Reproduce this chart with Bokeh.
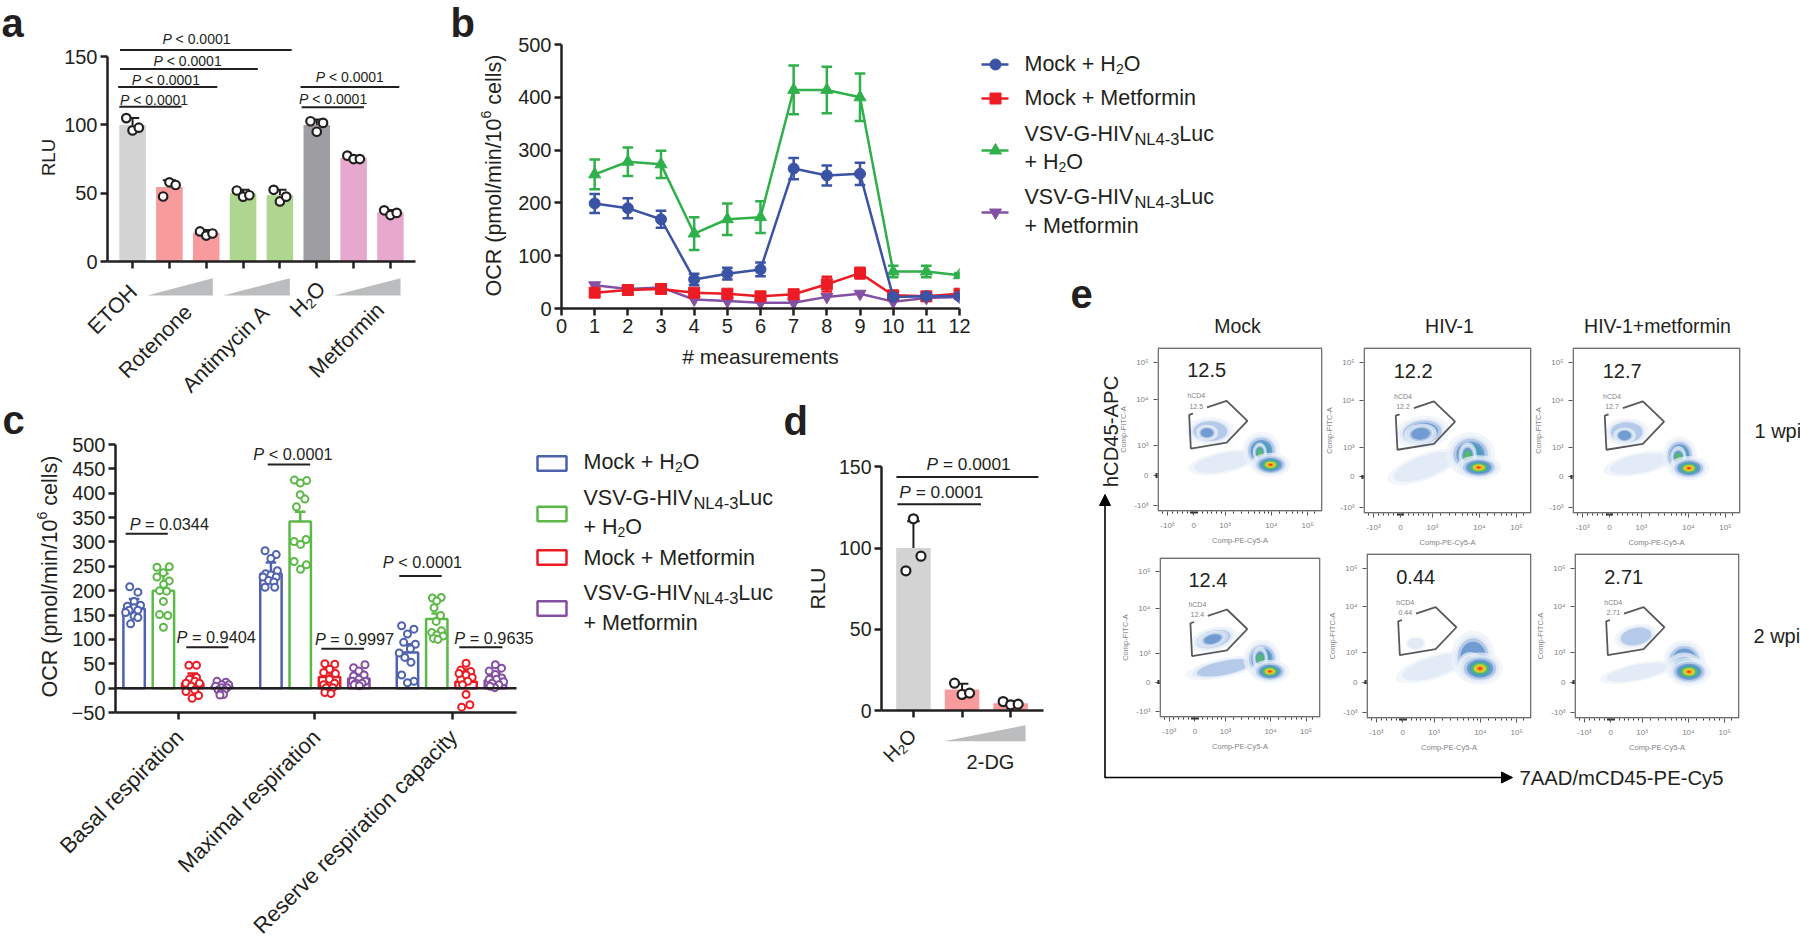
import math
from bokeh.plotting import figure
from bokeh.models import GridBox, FixedTicker, Range1d, Arrow, NormalHead
from bokeh.core.properties import value
from bokeh.embed import file_html
from bokeh.resources import INLINE

FONT = "Liberation Sans"
INK = "#231f20"

# ---------- panel a ----------
a_bars = [100, 54.5, 21, 50, 48.5, 100, 76, 36]
a_err = [5, 5, 2, 2.5, 4, 4, 1.5, 1.8]
a_colors = ["#d3d3d3", "#f89b9d", "#f89b9d", "#aed68f", "#aed68f", "#9e9ea2", "#e6a9cd", "#e6a9cd"]
a_pts = [[105, 96, 98], [47.6, 58, 56], [22, 19, 20.5], [52, 47.5, 48.5],
         [52.5, 44, 47.5], [102.7, 95, 101.5], [77.5, 75, 75], [37.5, 34, 35.6]]
a_jitter = [-0.17, 0, 0.17]
a_brackets = [(-0.34, 4.32, 154.9), (-0.34, 3.40, 141), (-0.39, 2.30, 127.8), (-0.36, 1.33, 113.4),
              (4.56, 7.24, 127.8), (4.59, 6.28, 113)]
a_ptext = [(0.81, 163, "< 0.0001"), (0.57, 147, "< 0.0001"), (-0.02, 133, "< 0.0001"),
           (-0.34, 118, "< 0.0001"), (4.97, 135, "< 0.0001"), (4.52, 119, "< 0.0001")]

# ---------- panel b ----------
b_x = list(range(1, 13))
b_blue = [199, 190, 169, 55, 66, 74, 265, 252, 255, 22, 23, 23]
b_blue_e = [18, 19, 16, 11, 11, 13, 20, 19, 21, 4, 4, 4]
b_green = [254, 278, 273, 142, 169, 173, 414, 414, 400, 70, 70, 63]
b_green_e = [28, 27, 26, 31, 30, 30, 46, 44, 45, 11, 11, 4]
b_red = [30, 35, 37, 30, 28, 23, 27, 46, 67, 25, 23, 28]
b_red_e = [6, 6, 6, 5, 5, 5, 6, 14, 10, 6, 8, 8]
b_purple = [44, 37, 40, 17, 14, 11, 11, 22, 28, 13, 20, 22]
BLUE, RED, GREEN, PURPLE = "#3a53a4", "#ed1c24", "#2fb04a", "#8450a3"

# ---------- panel c ----------
c_groups = ["Basal respiration", "Maximal respiration", "Reserve respiration capacity"]
c_bars = [163, 200, 10, 3, 235, 342, 23, 20, 73, 142, 13, 16]
c_err = [20, 35, 20, 9, 23, 20, 22, 15, 17, 11, 25, 15]
c_colors = ["#4f62ae", "#5cb947", RED, PURPLE] * 3
c_vals = [
    [208, 197, 178, 168, 170, 165, 160, 160, 155, 148, 145, 132],
    [248, 249, 237, 228, 220, 213, 200, 199, 178, 151, 149, 125],
    [47, 47, 22, 18, 14, 10, 10, 4, -7, -4, -15, -21],
    [14, 12, 7, 7, 4, 1, 1, -4, -4, -10, -13, -14],
    [282, 274, 266, 241, 235, 232, 228, 228, 221, 218, 207, 207],
    [427, 426, 421, 397, 388, 372, 305, 301, 295, 260, 253, 244],
    [50, 49, 39, 32, 30, 18, 7, 10, 1, 1, -9, -11],
    [48, 42, 35, 27, 25, 18, 14, 14, 10, 10, 7, 5],
    [128, 121, 111, 94, 90, 81, 72, 63, 53, 27, 14, 11],
    [185, 186, 179, 165, 149, 137, 118, 114, 109, 107, 102, 100],
    [51, 37, 34, 27, 22, 18, 14, 7, -13, -34, -39, 30],
    [48, 41, 35, 28, 21, 18, 18, 13, 10, 7, 1, 4],
]
c_jit = [
    [-.15, .13, 0, -.23, .22, 0, -.17, .13, -.29, 0, .13, -.12],
    [-.22, .2, 0, -.22, .2, .01, -.13, .11, 0, -.13, .15, 0],
    [-.13, .13, .13, -.11, .07, -.23, .23, -.05, -.23, .07, .2, -.02],
    [-.17, .13, -.01, .23, -.22, -.01, .17, -.13, .09, -.04, .05, -.07],
    [-.2, .18, 0, .22, -.18, 0, -.27, .18, -.08, .1, -.2, .13],
    [-.2, .22, 0, 0, .16, -.13, .2, -.21, .01, -.21, .21, .01],
    [-.16, .18, 0, -.2, .2, 0, -.2, .17, -.11, .11, -.16, .05],
    [.21, -.18, 0, .18, -.18, 0, .23, -.22, -.1, .11, -.16, .02],
    [-.2, .22, 0, -.13, .27, .1, -.28, -.09, .12, -.2, .22, 0],
    [-.15, .15, 0, -.09, .13, -.02, .16, -.17, 0, .22, -.11, .04],
    [0, -.18, .16, 0, .21, -.18, .06, -.12, 0, .13, -.15, -.24],
    [0, .21, -.21, 0, .22, -.21, .04, .28, -.11, .12, -.02, -.18],
]
c_group_x = [1.5, 6.17, 10.85]
c_brackets = [(-0.29, 1.15, 317), (1.78, 3.22, 84), (4.56, 6.01, 459), (6.39, 7.85, 81), (9.05, 10.5, 230), (11.1, 12.57, 84)]
c_ptext = [(-0.15, 337, "= 0.0344"), (1.45, 105, "= 0.9404"), (4.07, 480, "< 0.0001"),
           (6.17, 100, "= 0.9997"), (8.49, 258, "< 0.0001"), (10.93, 103, "= 0.9635")]

# ---------- panel d ----------
d_bars = [100, 13, 4.5]
d_err = [16.5, 3.5, 1]
d_colors = ["#d3d3d3", "#f89b9d", "#f89b9d"]
d_pts = [[86, 118, 95], [16.8, 9.9, 10.7], [5.5, 3.5, 3.9]]
d_jitter = [-0.155, 0, 0.155]
d_brackets = [(-0.33, 1.39, 127), (-0.35, 2.57, 143.8)]
d_ptext = [(-0.29, 134.6, "= 0.0001"), (0.27, 152, "= 0.0001")]

# ---------- panel e ----------
e_cols = ["Mock", "HIV-1", "HIV-1+metformin"]
e_rows = ["1 wpi", "2 wpi"]
e_pct = ["12.5", "12.2", "12.7", "12.4", "0.44", "2.71"]
e_gate_x = [.30, .419, .545, .419, .202, .192, .215]
e_gate_y = [.635, .675, .553, .42, .384, .589, .597]
e_xticks = [.06, .22, .41, .69, .91]
e_yticks = [.035, .22, .40, .68, .91]
e_xlabels = ["-10\u00b3", "0", "10\u00b3", "10\u2074", "10\u2075"]
e_ylabels = ["-10\u00b3", "0", "10\u00b3", "10\u2074", "10\u2075"]
e_xminor = [.03, .09, .12, .15, .18, .2, .205, .21, .215, .225, .23, .235, .24, .27, .3, .33, .36, .385,
            .46, .51, .55, .59, .62, .65, .67, .74, .78, .82, .85, .88, .95]
# clusters: x, y, width, height, tilt, number of density levels
e_clusters = [
    [(.40, .30, .36, .11, .2, 1), (.32, .49, .24, .14, 0, 2), (.30, .48, .11, .08, 0, 3), (.63, .37, .19, .19, 0, 4), (.62, .36, .07, .10, 0, 5), (.685, .285, .20, .12, 0, 8)],
    [(.36, .28, .38, .13, .35, 1), (.35, .49, .27, .16, .1, 3), (.34, .48, .16, .10, .1, 3), (.637, .357, .24, .22, 0, 4), (.62, .35, .09, .13, 0, 5), (.686, .277, .22, .12, 0, 8)],
    [(.40, .30, .36, .11, .2, 1), (.323, .49, .22, .14, 0, 2), (.31, .47, .11, .08, 0, 3), (.638, .35, .17, .19, 0, 4), (.63, .34, .08, .11, 0, 5), (.693, .273, .20, .12, 0, 8)],
    [(.40, .31, .40, .10, .2, 2), (.337, .49, .25, .12, .25, 3), (.33, .49, .16, .08, .25, 3), (.637, .365, .19, .20, 0, 4), (.625, .37, .08, .12, 0, 5), (.686, .288, .20, .12, 0, 8)],
    [(.40, .31, .38, .12, .3, 1), (.298, .455, .10, .07, 0, 1), (.646, .374, .22, .26, 0, 3), (.63, .33, .12, .12, .6, 4), (.688, .303, .23, .16, 0, 8)],
    [(.38, .28, .38, .09, .2, 1), (.373, .497, .22, .12, .2, 2), (.666, .354, .21, .20, 0, 3), (.665, .32, .17, .13, 0, 4), (.694, .283, .22, .14, 0, 8)],
]
e_halo = ("#edf2fa", .7, 1.22)
e_ramp = [("#dfe8f6", .8), ("#a9c2e4", .8), ("#4f82c4", .65), ("#3b9fb5", .7), ("#57bb63", .85), ("#d8d92d", .95), ("#f5a11e", 1), ("#e9381a", 1)]
e_scale = [1, .86, .7, .58, .46, .33, .21, .1]
e_boxes = [(1157, 1322, 346.7, 510.7), (1363, 1531, 346.7, 512.7), (1572, 1740, 347, 513),
           (1159, 1320, 556.7, 716.7), (1366, 1531, 553, 718), (1574, 1739, 553, 718)]

# ---------- legends ----------
MOCK_H2O = [("Mock + H", 0), ("2", 1), ("O", 0)]
VSV = [("VSV-G-HIV", 0), ("NL4-3", 1), ("Luc", 0)]
PLUS_H2O = [("+ H", 0), ("2", 1), ("O", 0)]
MOCK_MET = [("Mock + Metformin", 0)]
PLUS_MET = [("+ Metformin", 0)]

# ---------- text helpers ----------
_w = {}
for chars, w in [(" ./", .278), ("tfI", .278), ("ilj", .222), ("-r()", .333), ("cksvxyz", .5), ("mM", .833),
                 ("wCDHNRU", .722), ("AEBKPSVXY", .667), ("GOQ", .778), ("FTZ", .611), ("+=<>", .584)]:
    for ch in chars:
        _w[ch] = w
def text_w(s, size):
    return sum(_w.get(c, .556) for c in s) * size

# every figure shares these borders, as a grid box aligns the frames of its children
PL, PR, PT, PB = 70, 30, 10, 90


def panel(L, R, T, B, xr, yr):
    p = figure(frame_width=int(round(R - L)), frame_height=int(round(B - T)),
               min_border_left=PL, min_border_right=PR, min_border_top=PT, min_border_bottom=PB,
               x_range=Range1d(*xr), y_range=Range1d(*yr), output_backend="svg", toolbar_location=None,
               background_fill_color=None, border_fill_color=None, outline_line_color=None,
               margin=(int(round(T - PT)), 0, 0, int(round(L - PL))))
    p.grid.visible = False
    return p


def style_axis(ax, size="20px", lw=2.5):
    ax.axis_line_width = lw
    ax.axis_line_color = INK
    ax.major_tick_line_width = lw
    ax.major_tick_line_color = INK
    ax.major_tick_in = 0
    ax.major_tick_out = 7
    ax.minor_tick_line_color = None
    ax.major_label_text_font = FONT
    ax.major_label_text_font_size = size
    ax.major_label_text_color = INK
    ax.major_label_standoff = 3


def p_text(p, x, y, rest, size):
    kw = dict(text_font=value(FONT), text_font_size=f"{size}px", text_color=INK, text_baseline="middle", text_align="left")
    p.text(x=[x], y=[y], text=["P"], text_font_style="italic", **kw)
    p.text(x=[x], y=[y], text=[rest], x_offset=text_w("P ", size), **kw)


def brackets(p, rows, lw=2):
    p.segment(x0=[r[0] for r in rows], x1=[r[1] for r in rows], y0=[r[2] for r in rows], y1=[r[2] for r in rows],
              line_color=INK, line_width=lw)


def bars_with_points(p, xs, bars, errs, colors, pts, jit, width, cap, psize, plw):
    p.vbar(x=xs, top=bars, width=width, bottom=0, fill_color=colors, line_color=None)
    p.segment(x0=xs, x1=xs, y0=bars, y1=[b + e for b, e in zip(bars, errs)], line_color=INK, line_width=2)
    p.segment(x0=[x - cap for x in xs], x1=[x + cap for x in xs],
              y0=[b + e for b, e in zip(bars, errs)], y1=[b + e for b, e in zip(bars, errs)], line_color=INK, line_width=2)
    for x, vals in zip(xs, pts):
        p.scatter(x=[x + j for j in jit], y=vals, size=psize, fill_color="white", line_color=INK, line_width=plw)


# ---------- overlay ----------
# the negative margin takes PL and PT off the drawn frame, so they are added back to keep it at 1800 x 936
ov = figure(frame_width=1800 + PL, frame_height=936 + PT, x_range=Range1d(0, 1800), y_range=Range1d(936, 0), output_backend="svg",
            toolbar_location=None, background_fill_color=None, border_fill_color=None, outline_line_color=None,
            min_border_left=PL, min_border_right=PR, min_border_top=PT, min_border_bottom=PB,
            margin=(-PT, 0, 0, -PL), x_axis_type=None, y_axis_type=None)
ov.grid.visible = False


def label(x, y, s, size=20, align="left", base="middle", angle=0, style="normal", color=INK):
    ov.text(x=[x], y=[y], text=[s], text_font=value(FONT), text_font_size=f"{size}px", text_align=align,
            text_baseline=base, angle=angle, text_font_style=style, text_color=color)


def rich(x, y, pieces, size=21.5, sub=14, angle=0, drop=5):
    ca, sa = math.cos(angle), math.sin(angle)
    pos = 0
    for s, is_sub in pieces:
        sz = sub if is_sub else size
        d = drop if is_sub else 0
        stripped = s.lstrip(" ")
        pos += text_w(s[:len(s) - len(stripped)], sz)
        ov.text(x=[x + pos * ca + d * sa], y=[y - pos * sa + d * ca], text=[stripped], text_font=value(FONT),
                text_font_size=f"{sz}px", text_align="left", text_baseline="alphabetic", angle=angle, text_color=INK)
        pos += text_w(stripped, sz)


for s, x, y in [("a", 1, 22), ("b", 450, 22), ("c", 2, 419), ("d", 783, 420), ("e", 1070, 293)]:
    label(x, y, s, size=40, base="alphabetic", style="bold")

# wedges
for xa, xb, ya, yb in [(146.7, 212.3, 295, 277.7), (222.7, 289.3, 295, 277.7), (333.3, 400, 295, 277.7), (943.3, 1025, 740.7, 724.7)]:
    ov.patch(x=[xa, xb, xb], y=[ya, ya, yb], fill_color="#bbbcbe", line_color=None)

# rotated tick labels
R45 = math.pi / 4
label(133, 288, "ETOH", 21.5, "right", "alphabetic", R45)
label(188, 308, "Rotenone", 21.5, "right", "alphabetic", R45)
label(265.7, 308, "Antimycin A", 21.5, "right", "alphabetic", R45)
label(380, 306, "Metformin", 21.5, "right", "alphabetic", R45)
rich(293, 313, [("H", 0), ("2", 1), ("O", 0)], 21.5, 14, R45)
rich(886, 758, [("H", 0), ("2", 1), ("O", 0)], 20, 13, R45)
label(990, 761, "2-DG", 20, "center")
for x, s in zip([179, 316, 453], c_groups):
    label(x, 733, s, 22, "right", "alphabetic", R45)

# axis titles
label(48, 157, "RLU", 18.5, "center", "alphabetic", math.pi / 2)
label(817, 588, "RLU", 21, "center", "alphabetic", math.pi / 2)
Y_TITLE = [("OCR (pmol/min/10", 0), ("6", 1), (" cells)", 0)]
rich(493, 296, Y_TITLE, 21.5, 14, math.pi / 2, -8)
rich(49, 697, Y_TITLE, 21.5, 14, math.pi / 2, -8)

# legend b
for y, c, m, sz in [(64, BLUE, "circle", 11), (98, RED, "square", 11), (150, GREEN, "triangle", 12), (212, PURPLE, "inverted_triangle", 12)]:
    ov.segment(x0=[981], x1=[1008], y0=[y], y1=[y], line_color=c, line_width=2.5)
    ov.scatter(x=[995], y=[y], marker=m, size=sz, fill_color=c, line_color=c)
for y, pcs in [(63, MOCK_H2O), (97, MOCK_MET), (133, VSV), (161, PLUS_H2O), (196, VSV), (225, PLUS_MET)]:
    rich(1024, y, pcs, sub=16.5 if pcs is VSV else 14)

# legend c
for y, c in [(463, c_colors[0]), (513.5, c_colors[1]), (557, c_colors[2]), (608, c_colors[3])]:
    ov.rect(x=[551.5], y=[y], width=[29], height=[14.5], fill_color=None, line_color=c, line_width=2.5)
for y, pcs in [(461, MOCK_H2O), (497, VSV), (526, PLUS_H2O), (557, MOCK_MET), (592, VSV), (622, PLUS_MET)]:
    rich(583, y, pcs, sub=16.5 if pcs is VSV else 14)

# panel e text and arrows
for x, s in zip([1237, 1449, 1657], e_cols):
    label(x, 325, s, 19.5, "center")
label(1754, 430, e_rows[0], 20)
label(1753, 635, e_rows[1], 20)
label(1110, 431, "hCD45-APC", 20.3, "center", "alphabetic", math.pi / 2)
label(1519, 777, "7AAD/mCD45-PE-Cy5", 20.3)
ov.add_layout(Arrow(end=NormalHead(size=11, fill_color="black", line_color="black"), x_start=1104.5, y_start=777,
                    x_end=1104.5, y_end=494, line_color="black", line_width=1.6))
ov.add_layout(Arrow(end=NormalHead(size=11, fill_color="black", line_color="black"), x_start=1104, y_start=777,
                    x_end=1512, y_end=777, line_color="black", line_width=1.6))

# ---------- build panel a ----------
pa = panel(106.7, 415, 22.5, 261.7, (-0.68, 7.68), (0, 175))
a_x = list(range(8))
bars_with_points(pa, a_x, a_bars, a_err, a_colors, a_pts, a_jitter, 0.72, 0.18, 8.5, 2.2)
brackets(pa, a_brackets)
for x, y, t in a_ptext:
    p_text(pa, x, y, t, 14)
for ax in pa.yaxis + pa.xaxis:
    style_axis(ax)
pa.yaxis.bounds = (0, 150)
pa.yaxis.ticker = FixedTicker(ticks=[0, 50, 100, 150])
pa.xaxis.ticker = FixedTicker(ticks=a_x)
pa.xaxis.major_label_text_color = None

# ---------- build panel b ----------
pb = panel(561.4, 959.7, 43.6, 307.7, (0, 12), (0, 500))
for ys, es, c, m, sz in [(b_purple, None, PURPLE, "inverted_triangle", 12), (b_green, b_green_e, GREEN, "triangle", 12),
                         (b_red, b_red_e, RED, "square", 11), (b_blue, b_blue_e, BLUE, "circle", 11)]:
    pb.line(b_x, ys, line_color=c, line_width=2.5)
    if es:
        lo = [y - e for y, e in zip(ys, es)]
        hi = [y + e for y, e in zip(ys, es)]
        pb.segment(x0=b_x, x1=b_x, y0=lo, y1=hi, line_color=c, line_width=2.5)
        for v in (lo, hi):
            pb.segment(x0=[x - .16 for x in b_x], x1=[x + .16 for x in b_x], y0=v, y1=v, line_color=c, line_width=2.5)
    pb.scatter(b_x, ys, marker=m, size=sz, fill_color=c, line_color=c)
for ax in pb.yaxis + pb.xaxis:
    style_axis(ax)
pb.yaxis.ticker = FixedTicker(ticks=[0, 100, 200, 300, 400, 500])
pb.xaxis.ticker = FixedTicker(ticks=list(range(13)))
pb.xaxis.axis_label = "# measurements"
pb.xaxis.axis_label_text_font = FONT
pb.xaxis.axis_label_text_font_size = "21px"
pb.xaxis.axis_label_text_font_style = "normal"
pb.xaxis.axis_label_text_color = INK
pb.xaxis.axis_label_standoff = 9

# ---------- build panel c ----------
px_per = 29.3
c_left = -(133.6 - 115) / px_per
c_right = (516 - 133.6) / px_per
pc = panel(115, 556, 444, 711.8, (c_left, (556 - 133.6) / px_per), (-50, 500))
c_x = list(range(4)) + [v + 4.67 for v in range(4)] + [v + 9.33 for v in range(4)]
pc.vbar(x=c_x, top=c_bars, width=0.73, bottom=0, fill_color=None, line_color=c_colors, line_width=2.5)
c_top = [b + e for b, e in zip(c_bars, c_err)]
pc.segment(x0=c_x, x1=c_x, y0=c_bars, y1=c_top, line_color=c_colors, line_width=2.5)
pc.segment(x0=[x - .18 for x in c_x], x1=[x + .18 for x in c_x], y0=c_top, y1=c_top, line_color=c_colors, line_width=2.5)
for x, col, vals, jit in zip(c_x, c_colors, c_vals, c_jit):
    pc.scatter(x=[x + j for j in jit], y=vals, size=7, fill_color="white", line_color=col, line_width=2)
pc.segment(x0=[c_left], x1=[c_right], y0=[0], y1=[0], line_color=INK, line_width=2.5)
brackets(pc, c_brackets)
for x, y, t in c_ptext:
    p_text(pc, x, y, t, 16.3)
for ax in pc.yaxis + pc.xaxis:
    style_axis(ax)
pc.yaxis.ticker = FixedTicker(ticks=list(range(-50, 501, 50)))
pc.xaxis.bounds = (c_left, c_right)
pc.xaxis.ticker = FixedTicker(ticks=c_group_x)
pc.xaxis.major_label_text_color = None

# ---------- build panel d ----------
pd_ = panel(880.7, 1043, 440, 710, (-(912.7 - 880.7) / 48.7, (1043 - 912.7) / 48.7), (0, 166.2))
d_x = [0, 1, 2]
bars_with_points(pd_, d_x, d_bars, d_err, d_colors, d_pts, d_jitter, 0.71, 0.13, 9, 2.2)
brackets(pd_, d_brackets)
for x, y, t in d_ptext:
    p_text(pd_, x, y, t, 17.3)
for ax in pd_.yaxis + pd_.xaxis:
    style_axis(ax, "19.5px")
pd_.yaxis.bounds = (0, 150)
pd_.yaxis.ticker = FixedTicker(ticks=[0, 50, 100, 150])
pd_.xaxis.ticker = FixedTicker(ticks=d_x)
pd_.xaxis.major_label_text_color = None

# ---------- build panel e ----------
flow = []
for box, clusters, pct in zip(e_boxes, e_clusters, e_pct):
    L, R, T, B = box
    pf = panel(L, R, T, B, (0, 1), (0, 1))
    pf.quad(left=[.004], right=[.996], bottom=[.004], top=[.996], fill_color=None, line_color="#6d6e70", line_width=1.6)
    for cx, cy, w, h, tilt, n in clusters:
        pf.ellipse(x=[cx], y=[cy], width=[w * e_halo[2]], height=[h * e_halo[2]], angle=[tilt], fill_color=e_halo[0],
                   fill_alpha=e_halo[1], line_color=None)
        for (col, alpha), s in list(zip(e_ramp, e_scale))[:n]:
            pf.ellipse(x=[cx], y=[cy], width=[w * s], height=[h * s], angle=[tilt], fill_color=col,
                       fill_alpha=alpha, line_color=None)
    pf.line(e_gate_x, e_gate_y, line_color="#58595b", line_width=1.8)
    gray = "#808285"
    for y, s in [(.705, "hCD4"), (.642, pct)]:
        pf.text(x=[.235], y=[y], text=[s], text_font=value(FONT), text_font_size="7px", text_align="center",
                text_baseline="middle", text_color=gray)
    pf.text(x=[.18], y=[.86], text=[pct], text_font=value(FONT), text_font_size="20px", text_baseline="middle", text_color=INK)
    for ax, ticks, labels, name in [(pf.xaxis[0], e_xticks, e_xlabels, "Comp-PE-Cy5-A"), (pf.yaxis[0], e_yticks, e_ylabels, "Comp-FITC-A")]:
        ax.axis_line_color = None
        ax.ticker = FixedTicker(ticks=ticks, minor_ticks=e_xminor if name.endswith("Cy5-A") else [.21, .215, .22, .225, .23])
        ax.major_label_overrides = dict(zip(ticks, labels))
        ax.major_label_text_font = FONT
        ax.major_label_text_font_size = "8px"
        ax.major_label_text_color = gray
        ax.major_tick_in = 0
        ax.major_tick_out = 4
        ax.major_tick_line_color = "#555555"
        ax.major_tick_line_width = 1
        ax.minor_tick_in = 0
        ax.minor_tick_out = 2
        ax.minor_tick_line_color = "#333333"
        ax.minor_tick_line_width = 1
        ax.major_label_standoff = 5
        ax.axis_label = name
        ax.axis_label_text_font = FONT
        ax.axis_label_text_font_size = "7.5px"
        ax.axis_label_text_font_style = "normal"
        ax.axis_label_text_color = gray
        ax.axis_label_standoff = 3
    flow.append(pf)

figs = [ov, pa, pb, pc, pd_] + flow
root = GridBox(children=[(f, 0, 0, 1, 1) for f in figs], margin=(0, 0, 0, 0), spacing=0)
open("out.html", "w").write(file_html(root, INLINE))
